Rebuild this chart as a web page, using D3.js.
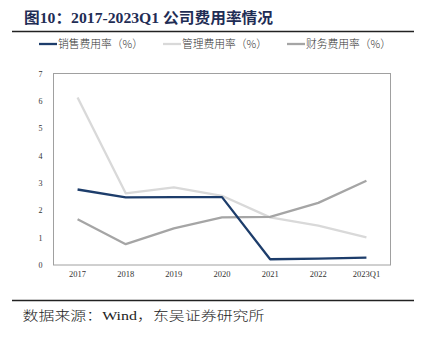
<!DOCTYPE html>
<html><head><meta charset="utf-8">
<script src="https://cdn.jsdelivr.net/npm/d3@7"></script>
<style>body{margin:0;background:#fff}svg{display:block}</style>
</head><body>
<svg id="c" width="428" height="339"></svg>
<script>
const categories = ["2017","2018","2019","2020","2021","2022","2023Q1"];
const salesRate = [2.76, 2.47, 2.48, 2.48, 0.21, 0.23, 0.27];
const mgmtRate = [6.12, 2.62, 2.84, 2.53, 1.74, 1.44, 1.01];
const finRate = [1.67, 0.76, 1.34, 1.74, 1.76, 2.27, 3.08];
const seriesNames = ["销售费用率（%）","管理费用率（%）","财务费用率（%）"];
const yTicks = [0,1,2,3,4,5,6,7];
const titleText = "图10：2017-2023Q1 公司费用率情况";
const sourceText = "数据来源：Wind，东吴证券研究所";

const colors = ["#1d3d6b", "#d9d9d9", "#a5a5a5"];
const svg = d3.select("#c");
const serif = "'Liberation Serif','Noto Sans CJK SC',serif";

// Title
svg.append("text").attr("x", 24).attr("y", 23)
  .attr("font-family", serif).attr("font-weight", "bold").attr("font-size", 15)
  .attr("textLength", 249).attr("lengthAdjust", "spacingAndGlyphs")
  .attr("fill", "#1f2d55").text(titleText);
svg.append("line").attr("x1", 12).attr("x2", 414).attr("y1", 31.5).attr("y2", 31.5)
  .attr("stroke", "#222").attr("stroke-width", 1.6);

// Plot area
const L = 53.5, R = 390.5, T = 73.5, B = 265;
const x = d3.scaleBand().domain(categories).range([L, R]);
const y = d3.scaleLinear().domain([0, 7]).range([B, T]);

svg.append("rect").attr("x", L).attr("y", T).attr("width", R - L).attr("height", B - T)
  .attr("fill", "none").attr("stroke", "#a0a0a0").attr("stroke-width", 1);

const yAxis = svg.append("g").attr("transform", `translate(${L},0)`)
  .call(d3.axisLeft(y).tickValues(yTicks).tickSize(0).tickPadding(11).tickFormat(d3.format("d")));
yAxis.select(".domain").remove();
yAxis.selectAll("text").attr("font-family", serif).attr("font-size", 8).attr("fill", "#333");

const xAxis = svg.append("g").attr("transform", `translate(0,${B})`)
  .call(d3.axisBottom(x).tickSize(0).tickPadding(6));
xAxis.select(".domain").remove();
xAxis.selectAll("text").attr("font-family", serif).attr("font-size", 8.5).attr("fill", "#333");

const line = d3.line().x((d, i) => x(categories[i]) + x.bandwidth() / 2).y(d => y(d));
const allSeries = [salesRate, mgmtRate, finRate];
[1, 2, 0].forEach(k => {
  svg.append("path").datum(allSeries[k]).attr("d", line)
    .attr("fill", "none").attr("stroke", colors[k]).attr("stroke-width", 2.3)
    .attr("stroke-linejoin", "round");
});

// Legend
const legX = [39, 163, 287];
seriesNames.forEach((n, k) => {
  svg.append("line").attr("x1", legX[k]).attr("x2", legX[k] + 18).attr("y1", 44).attr("y2", 44)
    .attr("stroke", colors[k]).attr("stroke-width", 2.3);
  svg.append("text").attr("x", legX[k] + 19).attr("y", 48)
    .attr("font-family", "'Noto Sans CJK SC',sans-serif").attr("font-size", 11)
    .attr("font-weight", 300)
    .attr("textLength", 85).attr("lengthAdjust", "spacingAndGlyphs")
    .attr("fill", "#333").text(n);
});

// Source
svg.append("line").attr("x1", 12).attr("x2", 414).attr("y1", 300.5).attr("y2", 300.5)
  .attr("stroke", "#222").attr("stroke-width", 1.4);
svg.append("text").attr("x", 22.5).attr("y", 319.5)
  .attr("font-family", serif).attr("font-size", 13).attr("font-weight", 300)
  .attr("textLength", 242).attr("lengthAdjust", "spacingAndGlyphs")
  .attr("fill", "#222").text(sourceText);
</script>
</body></html>
